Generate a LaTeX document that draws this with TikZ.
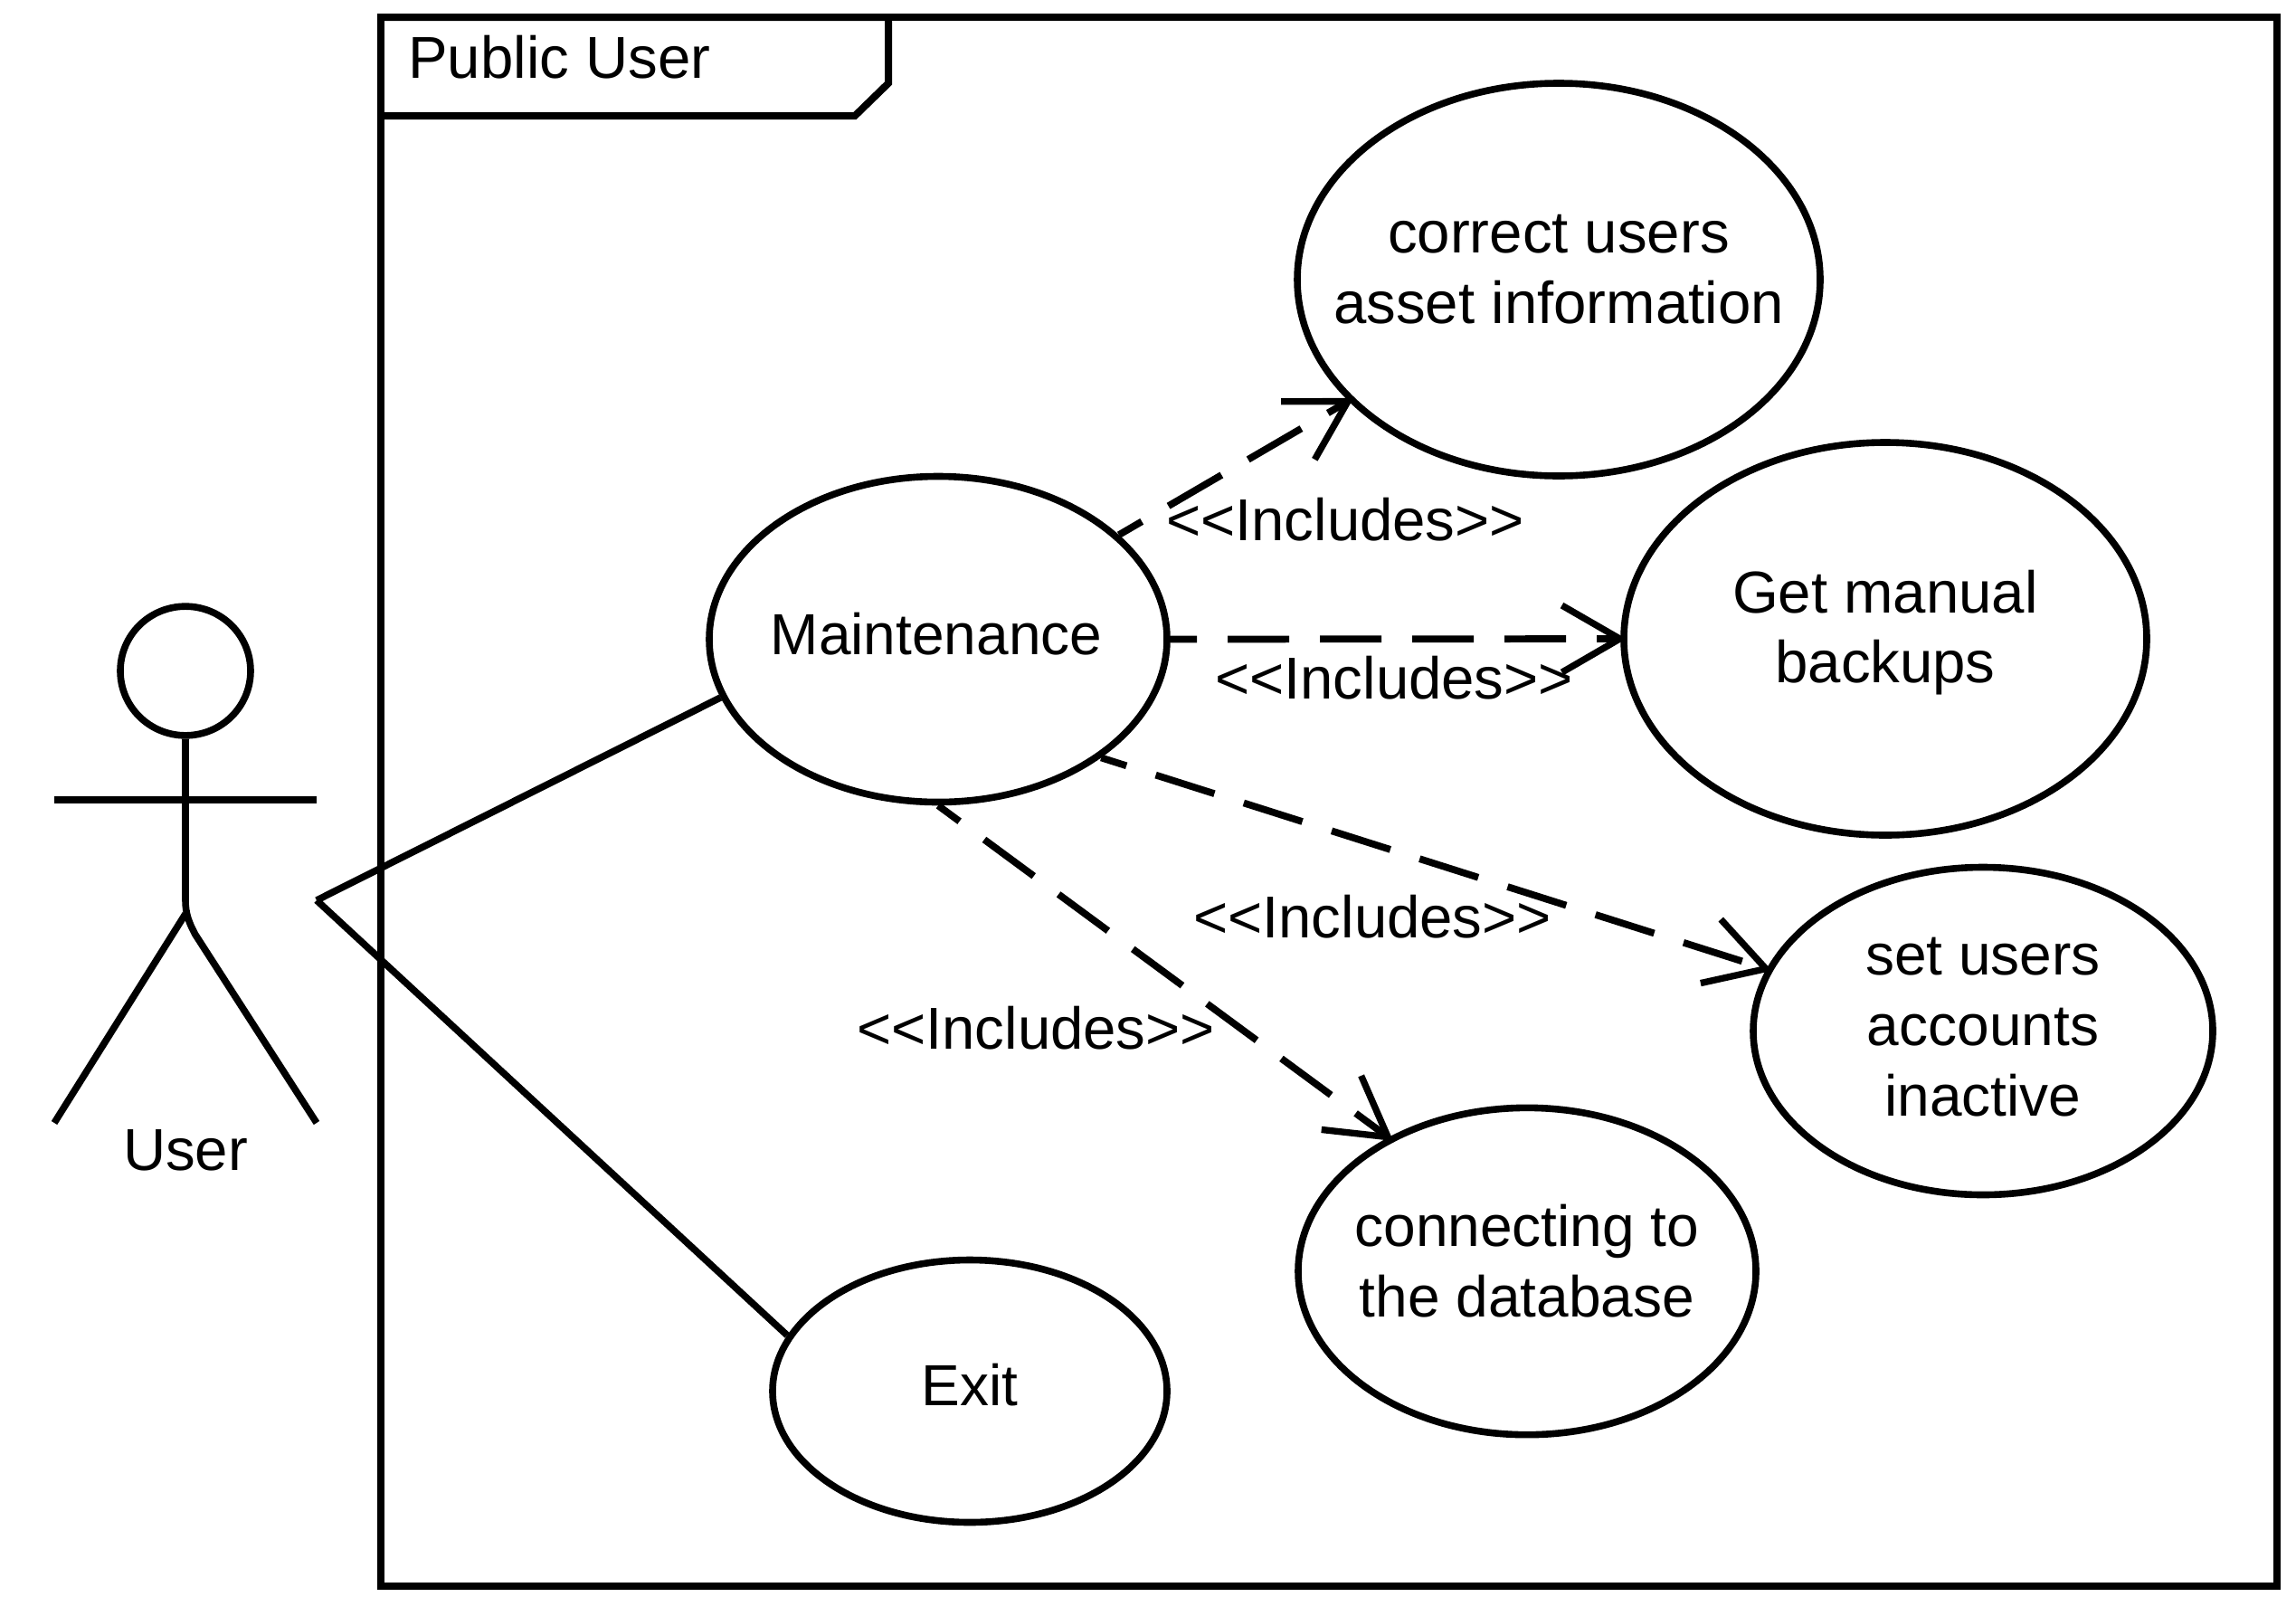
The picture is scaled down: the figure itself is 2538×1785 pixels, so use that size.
\documentclass[tikz,border=0pt]{standalone}
\usepackage{fontspec}
\setmainfont{Liberation Sans}
\usetikzlibrary{shapes.geometric,arrows.meta}
\tikzset{
  px/.style={x=0.75pt,y=-0.75pt},
  stroke/.style={line width=5.7pt,draw=black},
  usecase/.style={ellipse,stroke,inner sep=0pt,align=center,fill=none},
  label/.style={font=\fontsize{48}{58.3}\selectfont,inner sep=0pt},
  biglabel/.style={font=\fontsize{49}{58.3}\selectfont,inner sep=0pt},
  includes/.style={line width=5.8pt,draw=black,dash pattern=on 51pt off 25.5pt,dash phase=29pt,shorten >=-5pt,
    -{Straight Barb[length=48pt,width=55.5pt,line width=5.5pt]}},
  assoc/.style={stroke}
}
\begin{document}
\begin{tikzpicture}[px]
\useasboundingbox (0,0) rectangle (2538,1785);
% frame
\draw[line width=6pt] (421,19) rectangle (2517,1753);
\draw[line width=6pt,line join=miter] (421,19) -- (982,19) -- (982,92) -- (945,128) -- (421,128);
\node[biglabel,anchor=base west] (title) at (451,86) {Public User};
% actor
\node[ellipse,stroke,inner sep=0pt,minimum width=108pt,minimum height=107pt] (head) at (205,741.5) {};
\coordinate (hip) at (205,995);
\coordinate (armL) at (60,884);
\coordinate (armR) at (350,884);
\coordinate (legL) at (60,1241);
\coordinate (legR) at (350,1241);
\coordinate (crotch) at (205,1010);
\coordinate (apex) at (350,995);
\draw[stroke] (head.south) -- (hip) .. controls (205,1010) and (209,1020) .. (216,1033) -- (legR);
\draw[stroke] (crotch) -- (legL);
\draw[stroke] (armL) -- (armR);
\node[biglabel,anchor=base] (user) at (205,1293) {User};
% use cases
\node[usecase,minimum width=379.5pt,minimum height=270pt] (m) at (1037,706.5) {};
\node[usecase,minimum width=433.5pt,minimum height=325.5pt] (c) at (1723,309) {};
\node[usecase,minimum width=433.5pt,minimum height=325.5pt] (g) at (2084,706) {};
\node[usecase,minimum width=381pt,minimum height=271.5pt] (s) at (2192,1139.5) {};
\node[usecase,minimum width=379.5pt,minimum height=271pt] (d) at (1688,1405) {};
\node[usecase,minimum width=327pt,minimum height=217.5pt] (e) at (1072,1537.5) {};
% use case texts
\node[label,align=center] (mt) at (1035,701) {Maintenance};
\node[biglabel,align=center] (ct) at (1723,298) {correct users\\asset information};
\node[biglabel,align=center] (gt) at (2084,699) {Get manual\\backups};
\node[label,align=center] (st) at (2192,1135) {set users\\accounts\\inactive};
\node[label,align=center] (dt) at (1688,1393.5) {connecting to\\the database};
\node[label] (et) at (1072,1531) {Exit};
% associations
\draw[assoc] (apex) -- (m.195.4);
\draw[assoc] (apex) -- (e.163.6);
% includes
\draw[includes] (m.30.7) -- (c.210.4);
\draw[includes] (m.east) -- (g.west);
\draw[includes] (m.-36.9) -- (s.164.2);
\draw[includes] (m.south) -- (d.136.9);
\node[biglabel] (l1) at (1487,574) {<{}<Includes>{}>};
\node[biglabel] (l2) at (1541,749) {<{}<Includes>{}>};
\node[biglabel] (l3) at (1517,1013) {<{}<Includes>{}>};
\node[biglabel] (l4) at (1145,1136) {<{}<Includes>{}>};
\end{tikzpicture}
\end{document}
